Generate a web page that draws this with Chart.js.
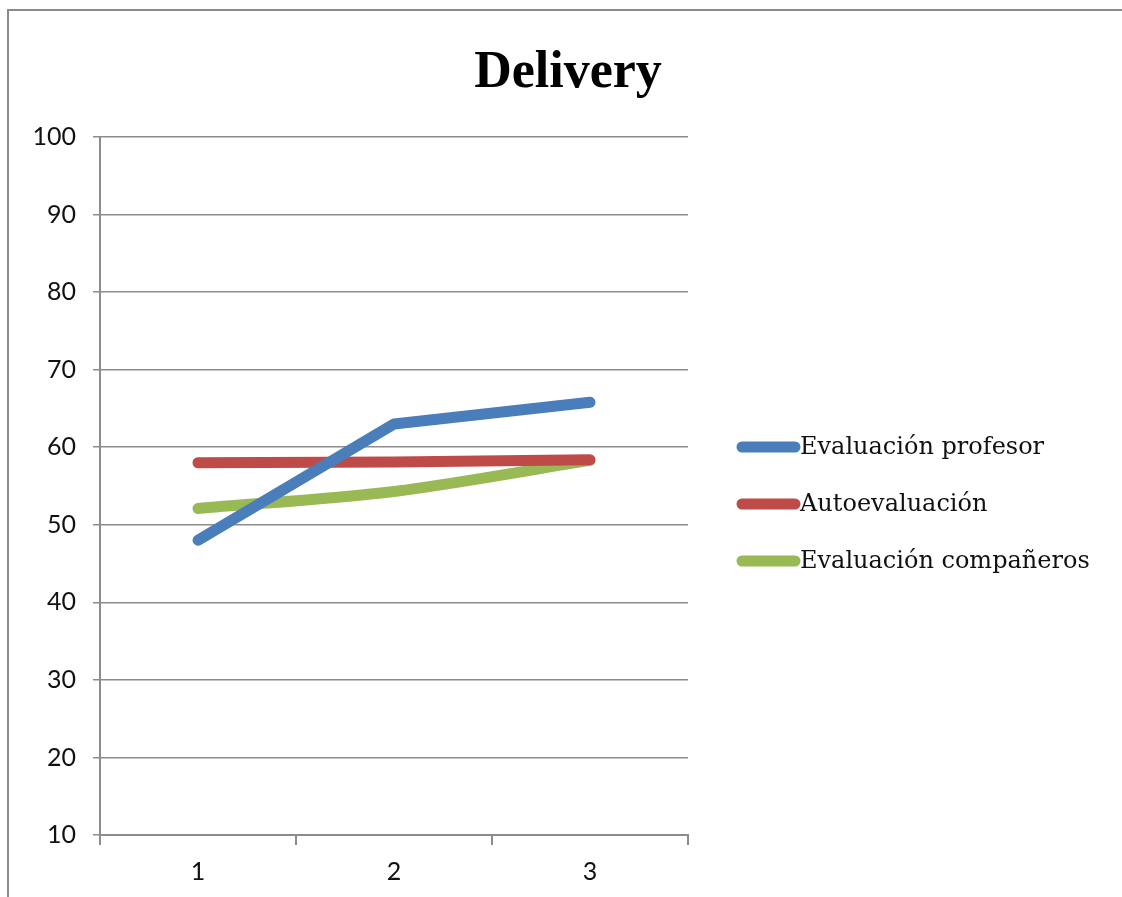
<!DOCTYPE html>
<html>
<head>
<meta charset="utf-8">
<script src="https://cdn.jsdelivr.net/npm/chart.js@4/dist/chart.umd.min.js"></script>
<style>
  html, body { margin: 0; padding: 0; background: #fff; }
  #wrap { width: 1122px; height: 897px; position: relative; }
</style>
</head>
<body>
<div id="wrap"><canvas id="c" width="1122" height="897"></canvas></div>
<script>
// Delivery scores per session, three kinds of assessment
const categories = ['1', '2', '3'];
const seriesNames = ['Evaluación profesor', 'Autoevaluación', 'Evaluación compañeros'];
const profesor = [48, 63, 65.8];
const autoevaluacion = [58, 58.1, 58.4];
const companeros = [52.1, 54.3, 58.3];
const yTicks = [10, 20, 30, 40, 50, 60, 70, 80, 90, 100];
const chartTitle = 'Delivery';

const colors = ['#4a7ebb', '#be4b48', '#98b954'];
const GRID = '#8c8c8c';
const tickFont = { family: 'Lato, "Liberation Sans", sans-serif', size: 25 };

// Frame lines along the top and left edges, plus the title
const framePlugin = {
  id: 'frame',
  beforeDraw(chart) {
    const ctx = chart.ctx;
    ctx.save();
    ctx.fillStyle = '#fff';
    ctx.fillRect(0, 0, chart.width, chart.height);
    ctx.strokeStyle = '#8a8a8a';
    ctx.lineWidth = 2;
    ctx.beginPath();
    ctx.moveTo(8, chart.height);
    ctx.lineTo(8, 10);
    ctx.lineTo(chart.width, 10);
    ctx.stroke();
    ctx.fillStyle = '#000';
    ctx.font = 'bold 52px "Liberation Serif", serif';
    ctx.textAlign = 'center';
    ctx.textBaseline = 'alphabetic';
    ctx.fillText(chartTitle, 568, 87);
    ctx.restore();
  }
};

// Legend on the right: thick rounded line sample followed by the series name
const lineLegend = {
  id: 'lineLegend',
  afterDraw(chart) {
    const ctx = chart.ctx;
    const x0 = 742, x1 = 795, textX = 800;
    const rows = [447, 504, 561];
    ctx.save();
    chart.data.datasets.forEach((ds, i) => {
      const y = rows[i];
      ctx.strokeStyle = ds.borderColor;
      ctx.lineWidth = 11;
      ctx.lineCap = 'round';
      ctx.beginPath();
      ctx.moveTo(x0, y);
      ctx.lineTo(x1, y);
      ctx.stroke();
      ctx.fillStyle = '#111';
      ctx.font = '24px "DejaVu Serif", serif';
      ctx.textBaseline = 'middle';
      ctx.textAlign = 'left';
      ctx.fillText(ds.label, textX, y + 1);
    });
    ctx.restore();
  }
};

const mk = (label, data, color, tension) => ({
  label, data,
  borderColor: color,
  backgroundColor: color,
  borderWidth: 11,
  borderCapStyle: 'round',
  borderJoinStyle: 'round',
  pointRadius: 0,
  pointHoverRadius: 0,
  tension,
  fill: false
});

new Chart(document.getElementById('c'), {
  type: 'line',
  data: {
    labels: categories,
    datasets: [
      mk(seriesNames[0], profesor, colors[0], 0),
      mk(seriesNames[1], autoevaluacion, colors[1], 0),
      mk(seriesNames[2], companeros, colors[2], 0.3)
    ]
  },
  options: {
    responsive: false,
    animation: false,
    devicePixelRatio: 1,
    events: [],
    layout: { padding: { left: 0, right: 434, top: 137, bottom: 0 } },
    plugins: {
      legend: { display: false },
      tooltip: { enabled: false },
      title: { display: false }
    },
    scales: {
      x: {
        type: 'category',
        offset: true,
        afterFit(s) { s.height = 62; },
        grid: {
          display: true,
          offset: true,
          drawOnChartArea: false,
          drawTicks: true,
          tickLength: 10,
          color: GRID,
          lineWidth: 2
        },
        border: { display: true, color: GRID, width: 2 },
        ticks: { color: '#111', padding: 12, font: tickFont }
      },
      y: {
        min: 10,
        max: 100,
        afterFit(s) { s.width = 100; },
        afterBuildTicks(s) { s.ticks = yTicks.map(v => ({ value: v })); },
        grid: {
          color: GRID,
          lineWidth: 1.5,
          drawTicks: true,
          tickLength: 7
        },
        border: { display: true, color: GRID, width: 2 },
        ticks: { color: '#111', padding: 17, font: tickFont }
      }
    }
  },
  plugins: [framePlugin, lineLegend]
});
</script>
</body>
</html>
